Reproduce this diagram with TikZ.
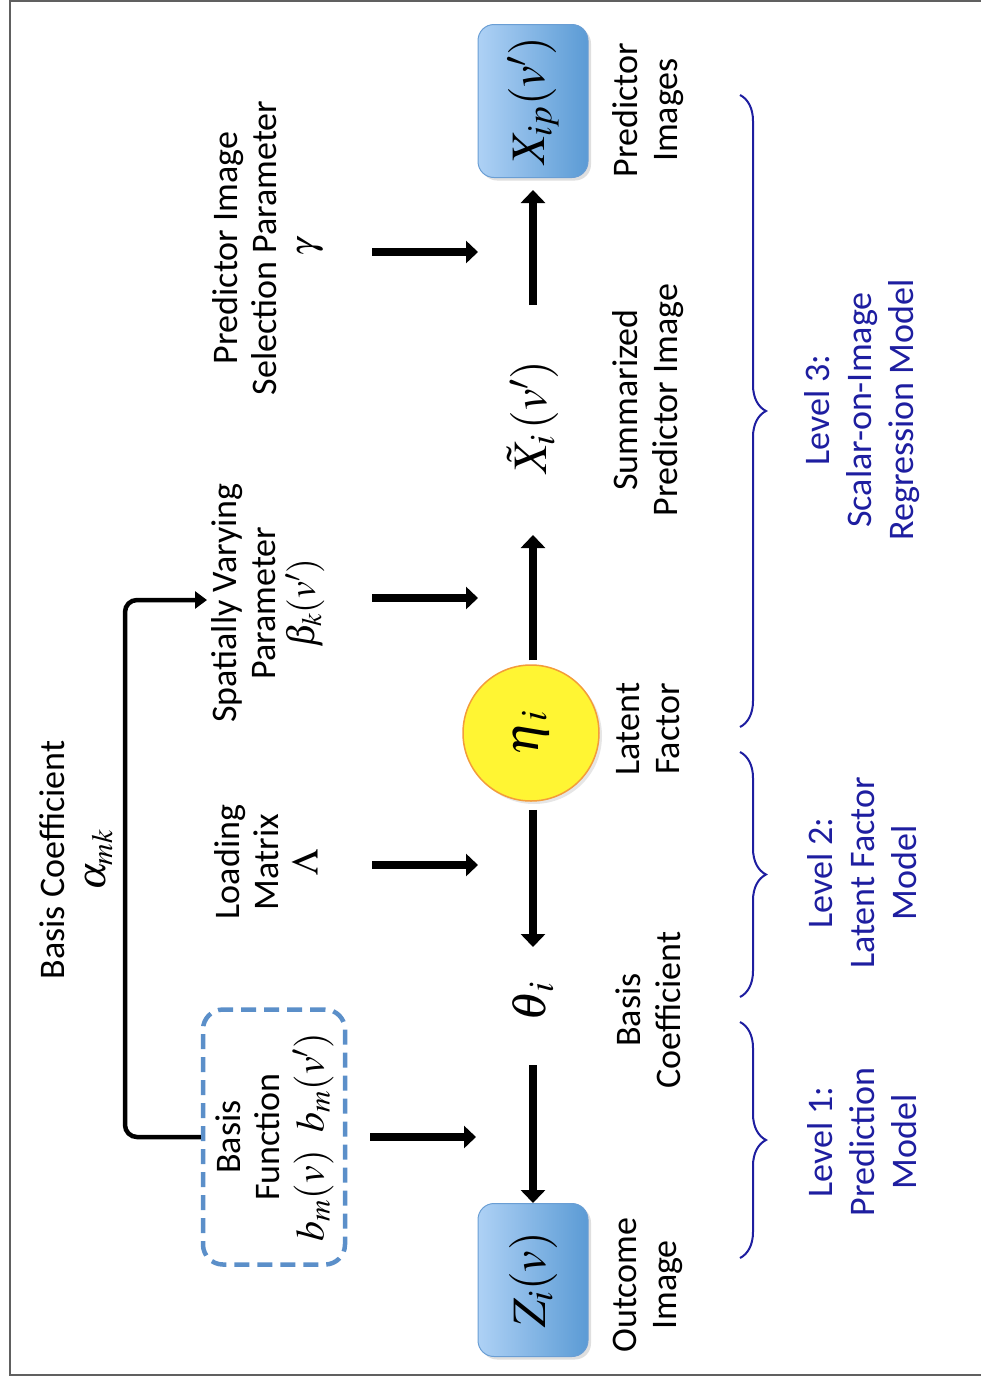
\documentclass[tikz,border=0pt]{standalone}
\usepackage{mathptmx}
\usepackage[no-math]{fontspec}
\setmainfont{Carlito}
\usetikzlibrary{arrows.meta,decorations.pathreplacing,shadows,calc}
\definecolor{boxL}{HTML}{AED1F5}
\definecolor{boxR}{HTML}{5B9BD5}
\definecolor{boxD}{HTML}{6A9ED4}
\definecolor{dashblue}{HTML}{5B8FC9}
\definecolor{lvl}{RGB}{30,30,160}
\definecolor{etaF}{HTML}{FFF533}
\definecolor{etaD}{HTML}{F39C3A}
\definecolor{framegray}{HTML}{606060}
\newcommand{\rt}[1]{\rotatebox{90}{#1}}
\begin{document}
\begin{tikzpicture}[x=1pt,y=-1pt,
  lab/.style={rotate=90,align=center,font=\fontsize{36}{39}\selectfont,inner sep=0pt},
  botlab/.style={rotate=90,align=center,font=\fontsize{36}{40}\selectfont,inner sep=0pt},
  lvllab/.style={rotate=90,align=center,font=\fontsize{36}{42}\selectfont,inner sep=0pt,text=lvl},
  mth/.style={inner sep=0pt,font=\fontsize{48}{48}\selectfont},
  imgbox/.style={rounded corners=16pt,left color=boxL,right color=boxR,draw=boxD,line width=1pt,
     minimum width=110pt,minimum height=153pt,inner sep=0pt,font=\fontsize{48}{48}\selectfont,
     drop shadow={opacity=0.25,shadow xshift=3pt,shadow yshift=-3pt}},
  etacirc/.style={circle,fill=etaF,draw=etaD,line width=1.5pt,minimum size=136pt,inner sep=0pt,
     font=\fontsize{50}{50}\selectfont,drop shadow={opacity=0.2,shadow xshift=3pt,shadow yshift=-3pt}},
  bfbox/.style={draw=dashblue,line width=4.5pt,dash pattern=on 15pt off 8pt,rounded corners=20pt,
     minimum width=142pt,minimum height=255pt,inner sep=0pt,font=\fontsize{36}{39}\selectfont},
  varrow/.style={line width=8pt,-{Triangle[width=24pt,length=13pt]}},
  harrow/.style={line width=8pt,-{Triangle[width=22pt,length=12pt]}},
  elbow/.style={line width=4.5pt,rounded corners=12pt,-{Triangle[width=17pt,length=12pt]}},
  lvlbrace/.style={draw=lvl,line width=2pt,decorate,decoration={brace,amplitude=26pt}}
]
\useasboundingbox (0,0) rectangle (981,1377);
\draw[framegray,line width=2pt] (981,1) -- (10,1) -- (10,1375) -- (981,1375);

% central chain
\node[imgbox] (Z) at (533,1280) {\rt{$Z_{i}(v)$}};
\node[imgbox] (Xip) at (533,101) {\rt{$X_{ip}(v')$}};
\node[etacirc] (eta) at (531,733) {\rt{$\eta_{\,i}$}};
\node[mth] (theta) at (533,1002) {\rt{$\theta_{\,i}$}};
\node[mth] (Xt) at (533,417) {\rt{$\tilde{X}_{i}\,(v')$}};

\draw[varrow] ($(theta)+(0,63)$) -- (Z.north);
\draw[varrow,shorten <=8pt] (theta |- eta.south) -- ($(theta)+(0,-55)$);
\draw[varrow,shorten <=4pt] (Xt |- eta.north) -- ($(Xt)+(0,118)$);
\draw[varrow,shorten >=12pt] ($(Xt)+(0,-112)$) -- (Xip.south);

% top labels
\node[lab] (lgam) at (268,248) {Predictor Image\\Selection Parameter\\$\gamma$};
\node[lab] (lbeta) at (268,603) {Spatially Varying\\Parameter\\{\fontsize{38}{39}\selectfont$\beta_k(v')$}};
\node[lab] (llam) at (266,862) {Loading\\Matrix\\{\fontsize{38}{39}\selectfont$\Lambda$}};
\node[bfbox] (bf) at (274,1137) {\rt{\begin{tabular}{@{}c@{}}Basis\\Function\\[2pt]{\fontsize{40}{40}\selectfont$b_m(v)\ \ b_m(v')$}\end{tabular}}};
\node[lab] (lalpha) at (76,860) {Basis Coefficient\\[2pt]{\fontsize{40}{40}\selectfont$\alpha_{mk}$}};

% horizontal arrows
\coordinate (g1) at (372,252); \coordinate (g2) at (478,252);
\coordinate (b1) at (372,598); \coordinate (b2) at (478,598);
\coordinate (l1) at (372,865); \coordinate (l2) at (478,865);
\coordinate (f1) at (370,1137); \coordinate (f2) at (476,1137);
\draw[harrow] (g1) -- (g2);
\draw[harrow] (b1) -- (b2);
\draw[harrow] (l1) -- (l2);
\draw[harrow] (f1) -- (f2);

% elbow arrow
\coordinate (btip) at (207,600);
\draw[elbow] (bf.west) -- (125,1137) -- (125,600) -- (btip);

% bottom labels
\node[botlab] (lout) at (648,1285) {Outcome\\Image};
\node[botlab] (lbc) at (648,1010) {Basis\\Coefficient};
\node[botlab] (llat) at (648,729) {Latent\\Factor};
\node[botlab] (lsum) at (648,400) {Summarized\\Predictor Image};
\node[botlab] (lpred) at (648,110) {Predictor\\Images};

% braces
\draw[lvlbrace] (740,1022) -- (740,1258);
\draw[lvlbrace] (740,752) -- (740,997);
\draw[lvlbrace] (740,95) -- (740,727);

% level labels
\node[lvllab] (lv1) at (862,1142) {Level 1:\\Prediction\\Model};
\node[lvllab] (lv2) at (862,873) {Level 2:\\Latent Factor\\Model};
\node[lvllab] (lv3) at (862,410) {Level 3:\\Scalar-on-Image\\Regression Model};
\end{tikzpicture}
\end{document}
